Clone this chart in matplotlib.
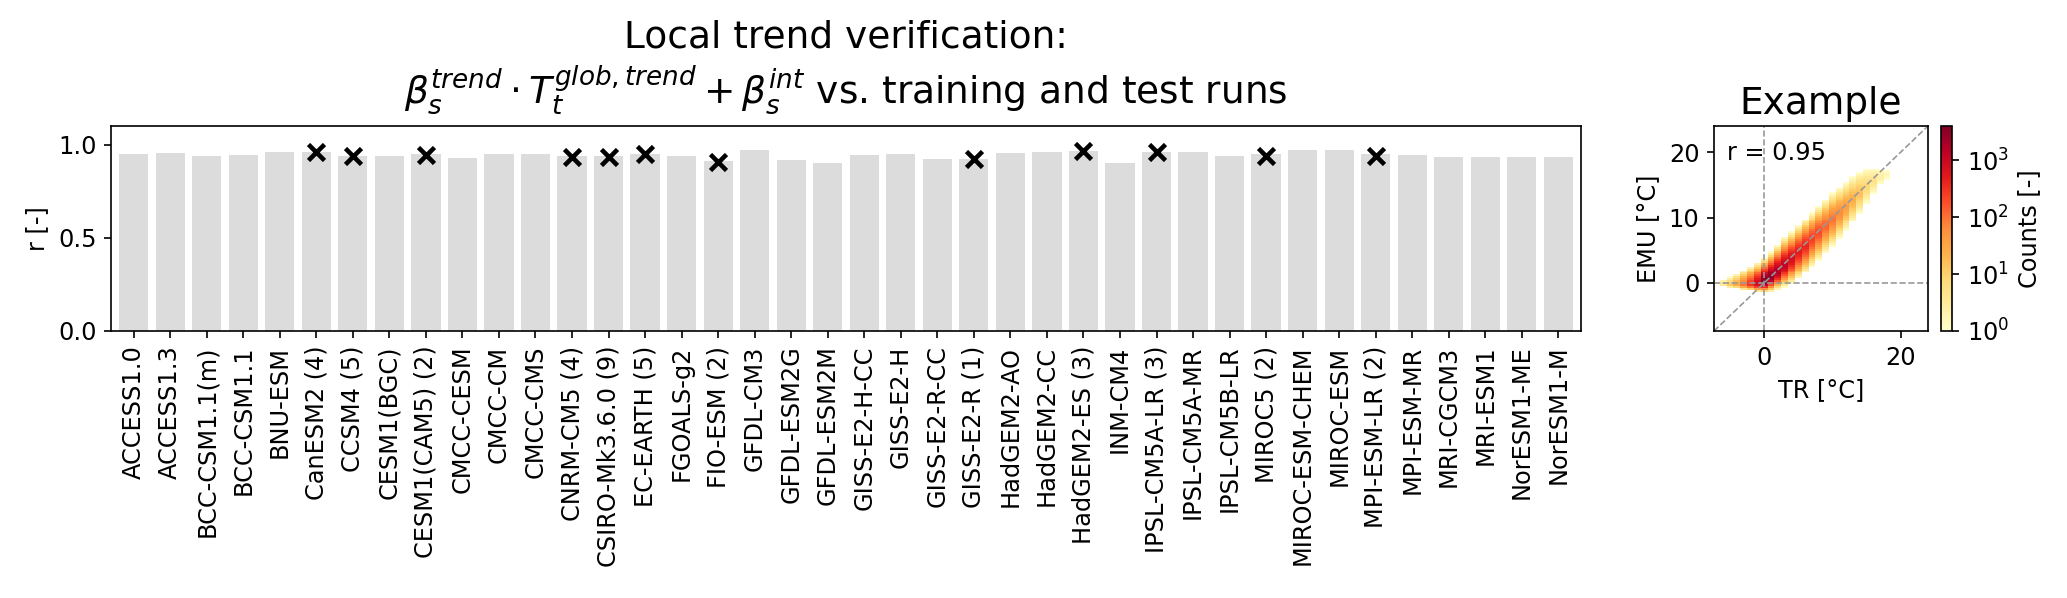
import numpy as np
import matplotlib
matplotlib.use("Agg")
import matplotlib.pyplot as plt
from matplotlib.colors import LogNorm

# modeles et correlations
models = ["ACCESS1.0", "ACCESS1.3", "BCC-CSM1.1(m)", "BCC-CSM1.1", "BNU-ESM",
          "CanESM2 (4)", "CCSM4 (5)", "CESM1(BGC)", "CESM1(CAM5) (2)", "CMCC-CESM",
          "CMCC-CM", "CMCC-CMS", "CNRM-CM5 (4)", "CSIRO-Mk3.6.0 (9)", "EC-EARTH (5)",
          "FGOALS-g2", "FIO-ESM (2)", "GFDL-CM3", "GFDL-ESM2G", "GFDL-ESM2M",
          "GISS-E2-H-CC", "GISS-E2-H", "GISS-E2-R-CC", "GISS-E2-R (1)", "HadGEM2-AO",
          "HadGEM2-CC", "HadGEM2-ES (3)", "INM-CM4", "IPSL-CM5A-LR (3)", "IPSL-CM5A-MR",
          "IPSL-CM5B-LR", "MIROC5 (2)", "MIROC-ESM-CHEM", "MIROC-ESM", "MPI-ESM-LR (2)",
          "MPI-ESM-MR", "MRI-CGCM3", "MRI-ESM1", "NorESM1-ME", "NorESM1-M"]

r_train = [0.948, 0.957, 0.939, 0.944, 0.960, 0.959, 0.941, 0.939, 0.951, 0.926,
           0.951, 0.951, 0.941, 0.939, 0.951, 0.941, 0.914, 0.969, 0.915, 0.901,
           0.946, 0.950, 0.923, 0.924, 0.953, 0.960, 0.964, 0.901, 0.962, 0.960,
           0.941, 0.948, 0.969, 0.969, 0.948, 0.944, 0.933, 0.935, 0.935, 0.935]

nan = np.nan
r_test = [nan, nan, nan, nan, nan, 0.960, 0.940, nan, 0.944, nan,
          nan, nan, 0.935, 0.935, 0.948, nan, 0.908, nan, nan, nan,
          nan, nan, nan, 0.921, nan, nan, 0.964, nan, 0.959, nan,
          nan, 0.941, nan, nan, 0.941, nan, nan, nan, nan, nan]

# exemple : histogramme 2D, une colonne par degre de TR
tr_col = [-7, -6, -5, -4, -3, -2, -1, 0, 1, 2, 3, 4, 5, 6, 7, 8, 9, 10, 11, 12,
          13, 14, 15, 16, 17, 18]
emu_lo = [-0.3, -0.6, -0.8, -0.9, -1.1, -1.2, -1.4, -1.5, -1.4, -1.1, -0.7, -0.2, 0.6,
          1.5, 2.5, 3.5, 4.6, 5.6, 6.8, 8.0, 9.3, 10.7, 12.2, 13.7, 15.0, 15.8]
emu_mid = [-0.1, -0.2, -0.3, -0.3, -0.3, -0.3, -0.2, 0.1, 0.8, 1.7, 2.7, 3.7, 4.7,
           5.7, 6.7, 7.7, 8.7, 9.7, 10.7, 11.7, 12.7, 13.7, 14.7, 15.5, 16.2, 16.5]
emu_hi = [0.2, 0.5, 0.9, 1.4, 2.0, 2.6, 3.2, 3.9, 4.8, 5.8, 7.0, 7.8, 8.8, 9.8, 10.8,
          11.8, 12.8, 13.8, 14.6, 15.4, 16.2, 16.9, 17.4, 17.5, 17.4, 17.1]
log_peak = [0.3, 0.7, 1.1, 1.5, 2.0, 2.5, 3.0, 3.6, 3.5, 3.3, 3.1, 2.9, 2.7, 2.6,
            2.4, 2.3, 2.1, 2.0, 1.8, 1.6, 1.4, 1.2, 0.9, 0.7, 0.4, 0.2]

W, H = 2067, 598
fig = plt.figure(figsize=(W / 150, H / 150), dpi=150)


def axes_px(left, top, right, bottom):
    """Cree un axe a partir de coordonnees en pixels."""
    return fig.add_axes([left / W, 1 - bottom / H, (right - left) / W, (bottom - top) / H])


FS = 11.5

# panneau des barres
ax = axes_px(111, 126, 1581, 331)
xpos = np.arange(len(models))
ax.bar(xpos, r_train, width=0.8, color="#dcdcdc")
ax.plot(xpos, r_test, "kx", ms=8, mew=2.2)
ax.set_xticks(xpos)
ax.set_xticklabels(models, rotation=90, fontsize=FS)
ax.set_xlim(-0.62, 39.62)
ax.set_ylim(0, 1.1)
ax.set_yticks([0, 0.5, 1.0])
ax.tick_params(labelsize=FS)
ax.set_ylabel("r [-]", fontsize=FS)
ax.set_title("Local trend verification:\n"
             r"$\beta_s^{trend} \cdot T_t^{glob,trend} + \beta_s^{int}$ vs. training and test runs",
             fontsize=18, pad=11)

# panneau exemple
ax2 = axes_px(1714, 126, 1928, 331)
x_edges = np.append(np.array(tr_col) - 0.5, tr_col[-1] + 0.5)
y_edges = np.arange(-2.0, 18.4, 0.3)
y_c = 0.5 * (y_edges[:-1] + y_edges[1:])
counts = np.full((len(y_c), len(tr_col)), np.nan)
for i in range(len(tr_col)):
    up = (y_c - emu_mid[i]) / (emu_hi[i] - emu_mid[i])
    down = (emu_mid[i] - y_c) / (emu_mid[i] - emu_lo[i])
    d = np.where(y_c >= emu_mid[i], up, down)
    inside = d <= 1
    counts[inside, i] = 10 ** (log_peak[i] * (1 - d[inside] ** 1.6))
counts = np.ma.masked_invalid(counts)
mesh = ax2.pcolormesh(x_edges, y_edges, counts, cmap="YlOrRd", norm=LogNorm(1, 4000))

lim = (-7.35, 24.0)
ax2.plot(lim, lim, ls="--", color="0.6", lw=0.8)
ax2.axhline(0, ls="--", color="0.6", lw=0.8)
ax2.axvline(0, ls="--", color="0.6", lw=0.8)
ax2.set_xlim(lim)
ax2.set_ylim(lim)
ax2.set_xticks([0, 20])
ax2.set_yticks([0, 10, 20])
ax2.tick_params(labelsize=FS)
ax2.set_xlabel("TR [°C]", fontsize=FS)
ax2.set_ylabel("EMU [°C]", fontsize=FS)
ax2.set_title("Example", fontsize=18)
ax2.text(0.06, 0.87, "r = 0.95", transform=ax2.transAxes, fontsize=FS, va="center")

cax = axes_px(1941, 126, 1952, 331)
cbar = fig.colorbar(mesh, cax=cax)
cbar.ax.minorticks_off()
cbar.ax.tick_params(labelsize=FS)
cbar.set_label("Counts [-]", fontsize=FS)

fig.savefig("out.png", dpi=150)
plt.close(fig)
